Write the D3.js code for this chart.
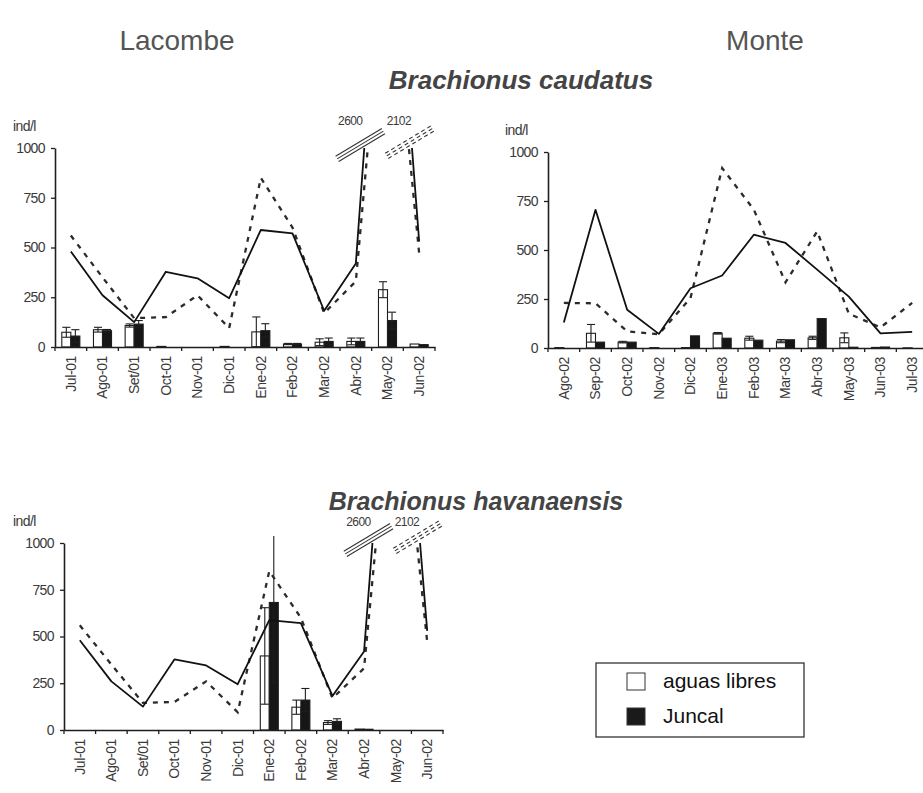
<!DOCTYPE html>
<html>
<head>
<meta charset="utf-8">
<script src="https://cdn.jsdelivr.net/npm/d3@7"></script>
<style>
  html, body { margin: 0; padding: 0; background: #fff; }
  svg { display: block; font-family: "Liberation Sans", Arial, sans-serif; }
</style>
</head>
<body>
<svg id="chart" width="923" height="793"></svg>
<script>
// ---------- DATA ----------
const monthsLacombe = ["Jul-01","Ago-01","Set/01","Oct-01","Nov-01","Dic-01","Ene-02","Feb-02","Mar-02","Abr-02","May-02","Jun-02"];
const monthsMonte   = ["Ago-02","Sep-02","Oct-02","Nov-02","Dic-02","Ene-03","Feb-03","Mar-03","Abr-03","May-03","Jun-03","Jul-03"];
const yTicks = [0, 250, 500, 750, 1000];

// reference lines (same in both Lacombe panels)
const lacombeSolid  = [480, 260, 125, 378, 345, 245, 588, 571, 182, 420, 2600, 530];
const lacombeDashed = [560, 350, 145, 150, 260, 95, 850, 600, 170, 330, 2102, 470];
const monteSolid    = [130, 705, 195, 72, 305, 370, 578, 536, 400, 262, 75, 82];
const monteDashed   = [230, 228, 85, 70, 255, 918, 706, 335, 595, 175, 105, 230];

// Brachionus caudatus - Lacombe
const lacCaudAguas     = [74, 87, 108, 3, 0, 3, 76, 15, 24, 28, 288, 15];
const lacCaudAguasErr  = [25, 12, 8, 0, 0, 0, 75, 3, 17, 17, 40, 0];
const lacCaudJuncal    = [55, 82, 115, 0, 0, 0, 82, 15, 28, 28, 133, 12];
const lacCaudJuncalErr = [32, 6, 18, 0, 0, 0, 35, 3, 17, 17, 42, 0];

// Brachionus caudatus - Monte
const monCaudAguas     = [2, 75, 30, 2, 2, 75, 50, 35, 52, 52, 3, 1];
const monCaudAguasErr  = [0, 45, 4, 0, 0, 4, 10, 8, 8, 25, 0, 0];
const monCaudJuncal    = [0, 30, 30, 0, 62, 50, 40, 42, 150, 4, 5, 0];
const monCaudJuncalErr = [0, 0, 0, 0, 0, 0, 0, 0, 0, 0, 0, 0];

// Brachionus havanaensis - Lacombe
const lacHavAguas      = [0, 0, 0, 0, 0, 0, 396, 122, 40, 5, 0, 0];
const lacHavAguasErr   = [0, 0, 0, 0, 0, 0, 258, 38, 10, 0, 0, 0];
const lacHavJuncal     = [0, 0, 0, 0, 0, 0, 682, 160, 46, 4, 0, 0];
const lacHavJuncalErr  = [0, 0, 0, 0, 0, 0, 430, 62, 14, 0, 0, 0];

const breakLabels = ["2600", "2102"];
const legendLabels = ["aguas libres", "Juncal"];

// ---------- DRAW ----------
const svg = d3.select("#chart");
const INK = "#1e1e1e";
const TXT = "#3a3a3a";

function drawPanel(p) {
  const g = svg.append("g");
  const x = d3.scaleBand().domain(p.months).range([p.x0, p.x1]).padding(0);
  const y = d3.scaleLinear().domain([0, 1000]).range([p.yBot, p.yTop]);
  const bw = x.bandwidth() * 0.285;
  const cx = m => x(m) + x.bandwidth() / 2;
  const id = "c" + Math.round(p.x0) + "_" + Math.round(p.yTop);

  const defs = svg.append("defs");
  defs.append("clipPath").attr("id", id + "l").append("rect")
    .attr("x", p.x0).attr("y", p.yTop).attr("width", p.x1 - p.x0 + 10).attr("height", p.yBot - p.yTop + 2);
  defs.append("clipPath").attr("id", id + "e").append("rect")
    .attr("x", p.x0).attr("y", p.yTop - 7).attr("width", p.x1 - p.x0 + 10).attr("height", p.yBot - p.yTop + 9);

  // bars
  const rows = p.months.map((m, i) => ({m, a: p.aguas[i], ae: p.aguasErr[i], j: p.juncal[i], je: p.juncalErr[i]}));
  const bars = g.append("g");
  bars.selectAll("rect.a").data(rows).join("rect")
    .attr("x", d => cx(d.m) - bw).attr("width", bw)
    .attr("y", d => y(d.a)).attr("height", d => y(0) - y(d.a))
    .attr("fill", "#fff").attr("stroke", INK).attr("stroke-width", 1.1);
  bars.selectAll("rect.j").data(rows).join("rect")
    .attr("x", d => cx(d.m)).attr("width", bw)
    .attr("y", d => y(d.j)).attr("height", d => y(0) - y(d.j))
    .attr("fill", "#161616").attr("stroke", INK).attr("stroke-width", 1.1);

  // error bars
  const errs = [];
  rows.forEach(d => {
    if (d.ae > 0) errs.push({c: cx(d.m) - bw / 2, v: d.a, e: d.ae});
    if (d.je > 0) errs.push({c: cx(d.m) + bw / 2, v: d.j, e: d.je});
  });
  const eg = g.append("g").attr("clip-path", `url(#${id}e)`)
    .attr("stroke", INK).attr("stroke-width", 1.1).attr("fill", "none");
  errs.forEach(d => {
    const lo = Math.max(0, d.v - d.e), hi = d.v + d.e;
    eg.append("line").attr("x1", d.c).attr("x2", d.c).attr("y1", y(lo)).attr("y2", y(hi));
    eg.append("line").attr("x1", d.c - bw * 0.45).attr("x2", d.c + bw * 0.45).attr("y1", y(hi)).attr("y2", y(hi));
    if (lo > 0) eg.append("line").attr("x1", d.c - bw * 0.45).attr("x2", d.c + bw * 0.45).attr("y1", y(lo)).attr("y2", y(lo));
  });

  // lines
  const line = d3.line().x((v, i) => cx(p.months[i])).y(v => y(v));
  const lg = g.append("g").attr("clip-path", `url(#${id}l)`).attr("fill", "none");
  lg.append("path").datum(p.dashed).attr("d", line)
    .attr("stroke", "#2b2b2b").attr("stroke-width", 2.3).attr("stroke-dasharray", "5,6");
  lg.append("path").datum(p.solid).attr("d", line)
    .attr("stroke", "#111").attr("stroke-width", 1.8).attr("stroke-linejoin", "round");

  // axes
  const ya = d3.axisLeft(y).tickValues(yTicks).tickFormat(d3.format("d"))
    .tickSize(4).tickSizeOuter(0).tickPadding(6);
  const yg = g.append("g").attr("transform", `translate(${p.x0},0)`).call(ya);
  yg.select(".domain").attr("stroke", INK).attr("stroke-width", 1.6);
  yg.selectAll(".tick line").attr("stroke", INK).attr("stroke-width", 1.3);
  yg.selectAll(".tick text").attr("font-size", 14).attr("fill", TXT).attr("letter-spacing", -0.6)
    .attr("font-family", "'Liberation Sans', Arial, sans-serif");

  const xa = d3.axisBottom(x).tickSize(0).tickSizeOuter(0);
  const xg = g.append("g").attr("transform", `translate(0,${p.yBot})`).call(xa);
  xg.select(".domain").attr("stroke", INK).attr("stroke-width", 1.6);
  xg.selectAll(".tick text")
    .attr("font-size", 14).attr("fill", TXT).attr("letter-spacing", -0.4)
    .attr("font-family", "'Liberation Sans', Arial, sans-serif")
    .attr("transform", "rotate(-90)").attr("text-anchor", "end")
    .attr("x", -9).attr("y", 0).attr("dy", "0.35em");
  const bounds = p.months.map(m => x(m)).concat([p.x1]);
  xg.selectAll("line.bt").data(bounds).join("line").attr("class", "bt")
    .attr("x1", d => d).attr("x2", d => d).attr("y1", 0).attr("y2", 4)
    .attr("stroke", INK).attr("stroke-width", 1.3);

  // unit label
  g.append("text").attr("x", p.unitX).attr("y", p.yTop - 17).text("ind/l")
    .attr("font-size", 14).attr("fill", TXT).attr("letter-spacing", -0.6);

  // axis breaks for off-scale peaks
  if (p.breaks) {
    const k = p.months.length - 2; // peak index (May-02)
    const cross = (arr, i0, i1) => {
      const xa0 = cx(p.months[i0]), xa1 = cx(p.months[i1]);
      const t = (1000 - arr[i0]) / (arr[i1] - arr[i0]);
      return xa0 + t * (xa1 - xa0);
    };
    const sx = cross(p.solid, k - 1, k);
    const dx = cross(p.dashed, k, k + 1);
    const ux = 0.857, uy = -0.514, nx = 0.514, ny = 0.857, half = 27;
    const drawBreak = (cxp, cyp, dash) => {
      [-3, 0, 3].forEach(o => {
        const ox = cxp + nx * o, oy = cyp + ny * o;
        g.append("line")
          .attr("x1", ox - ux * half).attr("y1", oy - uy * half)
          .attr("x2", ox + ux * half).attr("y2", oy + uy * half)
          .attr("stroke", "#333").attr("stroke-width", 1.1)
          .attr("stroke-dasharray", dash ? "4,3" : null);
      });
    };
    drawBreak(sx - 4, y(1000) - 3, false);
    drawBreak(dx + 1, y(1000) - 6, true);
    g.append("text").attr("x", sx - 14).attr("y", y(1000) - p.labelUp).attr("text-anchor", "middle")
      .attr("font-size", 12).attr("fill", TXT).attr("letter-spacing", -0.6).text(breakLabels[0]);
    g.append("text").attr("x", dx - 10).attr("y", y(1000) - p.labelUp).attr("text-anchor", "middle")
      .attr("font-size", 12).attr("fill", TXT).attr("letter-spacing", -0.6).text(breakLabels[1]);
  }
}

// titles
svg.append("text").attr("x", 177).attr("y", 50).attr("text-anchor", "middle")
  .attr("font-size", 28).attr("fill", "#555").text("Lacombe");
svg.append("text").attr("x", 765).attr("y", 50).attr("text-anchor", "middle")
  .attr("font-size", 28).attr("fill", "#555").text("Monte");
svg.append("text").attr("x", 521).attr("y", 89).attr("text-anchor", "middle")
  .attr("font-size", 26).attr("font-weight", "bold").attr("font-style", "italic").attr("fill", "#444")
  .text("Brachionus caudatus");
svg.append("text").attr("x", 476).attr("y", 510).attr("text-anchor", "middle")
  .attr("font-size", 25).attr("font-weight", "bold").attr("font-style", "italic").attr("fill", "#444")
  .text("Brachionus havanaensis");

drawPanel({months: monthsLacombe, solid: lacombeSolid, dashed: lacombeDashed,
  aguas: lacCaudAguas, aguasErr: lacCaudAguasErr, juncal: lacCaudJuncal, juncalErr: lacCaudJuncalErr,
  x0: 55, x1: 435, yTop: 148, yBot: 347, unitX: 13, breaks: true, labelUp: 23});
drawPanel({months: monthsMonte, solid: monteSolid, dashed: monteDashed,
  aguas: monCaudAguas, aguasErr: monCaudAguasErr, juncal: monCaudJuncal, juncalErr: monCaudJuncalErr,
  x0: 548, x1: 928, yTop: 152, yBot: 348, unitX: 505, breaks: false});
drawPanel({months: monthsLacombe, solid: lacombeSolid, dashed: lacombeDashed,
  aguas: lacHavAguas, aguasErr: lacHavAguasErr, juncal: lacHavJuncal, juncalErr: lacHavJuncalErr,
  x0: 64, x1: 443, yTop: 543, yBot: 730, unitX: 13, breaks: true, labelUp: 17});

// legend
const lg = svg.append("g");
lg.append("rect").attr("x", 596).attr("y", 663).attr("width", 208).attr("height", 74)
  .attr("fill", "#fff").attr("stroke", "#333").attr("stroke-width", 1.3);
const legendFills = ["#fff", "#1a1a1a"];
legendLabels.forEach((t, i) => {
  lg.append("rect").attr("x", 627).attr("y", 673 + i * 35).attr("width", 18).attr("height", 17)
    .attr("fill", legendFills[i]).attr("stroke", "#333").attr("stroke-width", 1);
  lg.append("text").attr("x", 663).attr("y", 688 + i * 35).attr("font-size", 21)
    .attr("fill", "#111").text(t);
});
</script>
</body>
</html>
